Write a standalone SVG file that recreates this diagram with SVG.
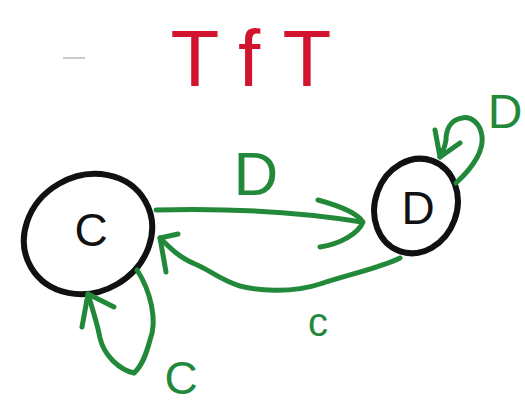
<svg xmlns="http://www.w3.org/2000/svg" width="525" height="403" viewBox="0 0 525 403">
<style>
.node{fill:none;stroke:#111;stroke-width:6;stroke-linecap:round}
.ntext{font-family:"Liberation Sans",Arial,sans-serif;fill:#111;text-anchor:middle}
.edge{fill:none;stroke:#23893a;stroke-width:5;stroke-linecap:round;stroke-linejoin:round}
.elabel{font-family:"Liberation Sans",Arial,sans-serif;fill:#23893a;text-anchor:middle}
</style>
<rect width="525" height="403" fill="#fff"/>
<line x1="63" y1="58" x2="85" y2="58" stroke="#c8ccd0" stroke-width="2"/>
<text x="195 249 307" y="86" font-family="'Liberation Sans',Arial,sans-serif" font-size="80" fill="#d2142e" text-anchor="middle">TfT</text>
<g id="node-C">
<ellipse class="node" cx="88" cy="234" rx="66" ry="58" transform="rotate(-30 88 234)"/>
<text class="ntext" x="91" y="246" font-size="46">C</text>
</g>
<g id="node-D">
<ellipse class="node" cx="416" cy="206" rx="41" ry="48" transform="rotate(20 416 206)"/>
<text class="ntext" x="418" y="224" font-size="46">D</text>
</g>
<g id="connectors">
<path class="edge" d="M156 210 C230 208 300 212 362 222"/>
<path class="edge" d="M318 200 C340 206 358 214 363 222 C358 234 340 244 320 247"/>
<text class="elabel" x="256" y="195" font-size="62">D</text>
<path class="edge" d="M400 258 C380 268 350 274 320 284 C290 294 255 290 240 286 C220 280 210 270 195 264 C180 258 170 248 160 238"/>
<path class="edge" d="M178 234 L160 238 L166 272"/>
<text class="elabel" x="318" y="336" font-size="40">c</text>
<path class="edge" d="M137 270 C150 290 158 320 150 340 C146 355 142 366 134 373 C120 370 104 356 100 338 C97 322 92 308 88 294"/>
<path class="edge" d="M82 327 L88 294 L114 307"/>
<text class="elabel" x="181" y="394" font-size="46">C</text>
<path class="edge" d="M456 183 C470 170 484 152 482 136 C480 122 470 116 462 118 C450 120 446 130 446 140 C445 148 442 152 440 157"/>
<path class="edge" d="M435 130 L440 157 L460 143"/>
<text class="elabel" x="505" y="128" font-size="48">D</text>
</g>
</svg>
